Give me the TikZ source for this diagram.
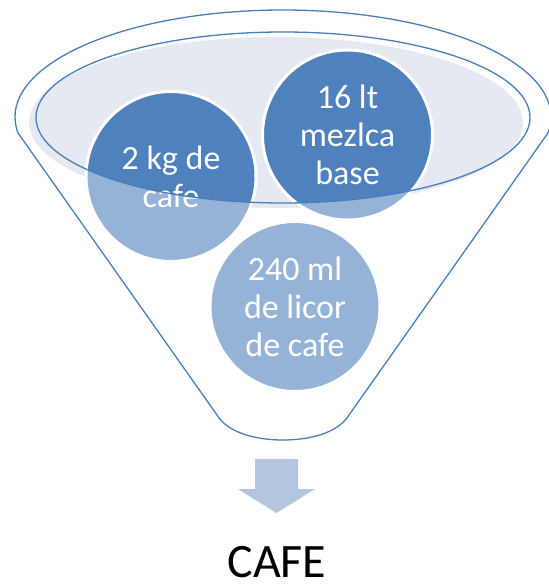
\documentclass[tikz,border=0pt]{standalone}
\usepackage{fontspec}
\setmainfont{Carlito}
\usetikzlibrary{calc}

\definecolor{deep}{HTML}{4F81BD}
\definecolor{pale}{HTML}{95B3D7}
\definecolor{rimfill}{HTML}{E4E9F2}
\definecolor{rimline}{HTML}{4A7EBB}
\definecolor{flow}{HTML}{B4C5E0}

\begin{document}
\begin{tikzpicture}[x=1pt, y=-1pt,
 drop/.style={circle, minimum size=170pt, inner sep=0pt, fill=deep, draw=white, line width=3pt,
  text=white, align=center, font=\fontsize{34}{38}\selectfont,
  path picture={\fill[pale, even odd rule] (path picture bounding box.north west) rectangle (path picture bounding box.south east) (R) ellipse [x radius=247, y radius=85.5];}},
 outline/.style={draw=rimline, line width=1.3pt}]
 \useasboundingbox (0,0) rectangle (548,585);
 \coordinate (O) at (283,117);
 \coordinate (R) at (283,117.5);
 \coordinate (G) at (276,122.5);

 %漏斗の外形
 \draw[outline] ($(O)+(171.4:268 and 107)$) arc [start angle=171.4, end angle=368.6, x radius=268, y radius=107]
  -- (349,415) .. controls (338,433) and (310,440) .. (283,440) .. controls (256,440) and (228,433) .. (217,415) -- cycle;
 \fill[rimfill] (G) ellipse [x radius=247, y radius=85.5];

 \node[drop] (kg) at (171,176.5) {2 kg de\\cafe};
 \node[drop] (lt) at (347.5,135) {16 lt\\mezlca\\base};
 \node[drop] (ml) at (295,306.5) {240 ml\\de licor\\de cafe};

 \draw[outline] (R) ellipse [x radius=247, y radius=85.5];

 \fill[flow] (255,459) -- (298,459) -- (298,489) -- (315,489) -- (276.5,513) -- (238,489) -- (255,489) -- cycle;
 \node[font=\fontsize{48}{56}\selectfont, inner sep=0pt, anchor=base] (cafe) at (277,577) {CAFE};
\end{tikzpicture}
\end{document}
